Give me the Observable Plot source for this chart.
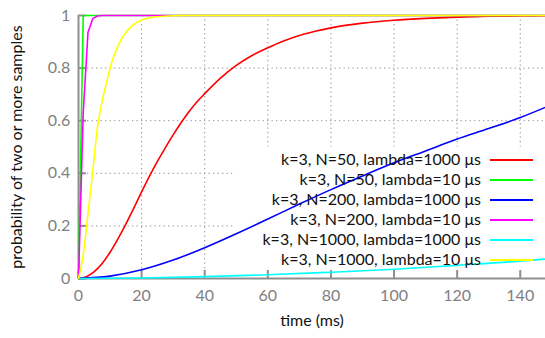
<!DOCTYPE html>
<html><head><meta charset="utf-8">
<script src="https://cdn.jsdelivr.net/npm/d3@7"></script>
<script src="https://cdn.jsdelivr.net/npm/@observablehq/plot@0.6"></script>
<style>
html,body{margin:0;padding:0;background:#fff;}
#chart svg{display:block}
</style></head><body><div id="chart"></div>
<script>
// ---- data ----
const seriesLabels = [
  "k=3, N=50, lambda=1000 \u03bcs",
  "k=3, N=50, lambda=10 \u03bcs",
  "k=3, N=200, lambda=1000 \u03bcs",
  "k=3, N=200, lambda=10 \u03bcs",
  "k=3, N=1000, lambda=1000 \u03bcs",
  "k=3, N=1000, lambda=10 \u03bcs"
];
const seriesColors = ["#ff0000", "#00ff00", "#0000ff", "#ff00ff", "#00ffff", "#ffff00"];

const tN50L1000 = [0,2.5,5,7.5,10,12.5,15,17.5,20,22.5,25,27.5,30,32.5,35,37.5,40,45,50,55,60,65,70,75,80,90,100,110,120,130,140,148];
const pN50L1000 = [0,0.007,0.026,0.057,0.1,0.151,0.207,0.267,0.329,0.389,0.445,0.497,0.546,0.592,0.634,0.671,0.703,0.762,0.81,0.848,0.877,0.903,0.924,0.94,0.953,0.971,0.982,0.989,0.994,0.997,0.998,0.999];

const tN50L10 = [0,1.5,3,148];
const pN50L10 = [0,1,1,1];

const tN200L1000 = [0,10,20,30,40,50,60,70,80,90,100,110,120,130,140,148];
const pN200L1000 = [0,0.009,0.033,0.07,0.117,0.17,0.226,0.283,0.338,0.39,0.44,0.485,0.53,0.57,0.612,0.651];

const tN200L10 = [0,1.5,3,4.5,6,7.5,148];
const pN200L10 = [0,0.63,0.935,0.988,0.998,1,1];

const tN1000L1000 = [0,20,40,60,80,100,120,140,148];
const pN1000L1000 = [0,0.002,0.007,0.014,0.024,0.035,0.05,0.066,0.074];

const tN1000L10 = [0,1.5,3,4.5,6,7.5,9,10.5,12,13.5,15,16.5,18,19.5,21,22.5,24,27,30,33,148];
const pN1000L10 = [0,0.09,0.245,0.405,0.575,0.675,0.75,0.82,0.87,0.908,0.935,0.955,0.97,0.98,0.987,0.991,0.994,0.997,0.999,1,1];

const xTicks = [0,20,40,60,80,100,120,140];
const yTicks = [0,0.2,0.4,0.6,0.8,1];
const xTitle = "time (ms)";
const yTitle = "probability of two or more samples";

// ---- build ----
const seriesT = [tN50L1000, tN50L10, tN200L1000, tN200L10, tN1000L1000, tN1000L10];
const seriesP = [pN50L1000, pN50L10, pN200L1000, pN200L10, pN1000L1000, pN1000L10];
const seriesCurve = ["monotone-x", "linear", "monotone-x", "linear", "monotone-x", "monotone-x"];
const tables = seriesT.map((ts, i) => ts.map((t, j) => ({t, p: seriesP[i][j]})));

const W = 545, H = 338, mL = 78, mR = 0, mT = 15, mB = 60;
const plotH = H - mT - mB, plotW = W - mL - mR;
const gray = "#8f8f8f";
const legendBox = [{x1: 49, x2: 148, y1: 0, y2: 0.5}];

const lineMarks = tables.map((tb, i) => Plot.line(tb, {x: "t", y: "p", stroke: seriesColors[i], strokeWidth: 1.6, curve: seriesCurve[i]}));

const legendMarks = seriesLabels.map((lab, i) =>
  Plot.text([lab], {text: d => d, frameAnchor: "top-right", dx: -64.5, dy: 138.5 + i * 20, textAnchor: "end", fill: "#111", fontSize: 16})
);

const chart = Plot.plot({
  width: W, height: H, marginLeft: mL, marginRight: mR, marginTop: mT, marginBottom: mB,
  x: {domain: [0, 148]},
  y: {domain: [0, 1]},
  style: {fontFamily: "Lato, 'Open Sans', sans-serif", fontSize: "16px", background: "white", overflow: "visible"},
  marks: [
    Plot.gridX(xTicks.slice(1), {stroke: gray, strokeOpacity: 1, strokeDasharray: "1.3,3.2", strokeWidth: 1}),
    Plot.gridY(yTicks.slice(1, -1), {stroke: gray, strokeOpacity: 1, strokeDasharray: "1.3,3.2", strokeWidth: 1}),
    Plot.rect(legendBox, {x1: "x1", x2: "x2", y1: "y1", y2: "y2", fill: "white"}),
    Plot.ruleX([0], {stroke: gray, strokeWidth: 2}),
    Plot.ruleY([0], {stroke: gray, strokeWidth: 2}),
    Plot.tickX(xTicks, {x: d => d, stroke: gray, strokeWidth: 2, insetTop: plotH - 8}),
    Plot.tickY(yTicks, {y: d => d, stroke: gray, strokeWidth: 2, insetRight: plotW - 8}),
    Plot.axisX({ticks: xTicks, tickSize: 0, tickPadding: 11.5, tickFormat: d => String(d), color: "#808080", label: null, fontSize: 16}),
    Plot.axisY({ticks: yTicks, tickSize: 0, tickPadding: 8.3, tickFormat: d => String(d), color: "#808080", label: null, fontSize: 16}),
    ...lineMarks,
    ...legendMarks,
    Plot.text([yTitle], {text: d => d, frameAnchor: "left", textAnchor: "middle", dx: -62, rotate: -90, fill: "#111", fontSize: 16}),
    Plot.text([xTitle], {text: d => d, frameAnchor: "bottom", dy: 47, fill: "#111", fontSize: 16})
  ]
});
document.getElementById("chart").appendChild(chart);

// legend sample lines (pixel layout of the key)
const svg = d3.select(chart);
const g = svg.append("g");
seriesColors.forEach((c, i) => {
  const y = mT + 145 + i * 20;
  g.append("line").attr("x1", 490).attr("x2", 533).attr("y1", y).attr("y2", y)
    .attr("stroke", c).attr("stroke-width", 2);
});
</script>
</body></html>
